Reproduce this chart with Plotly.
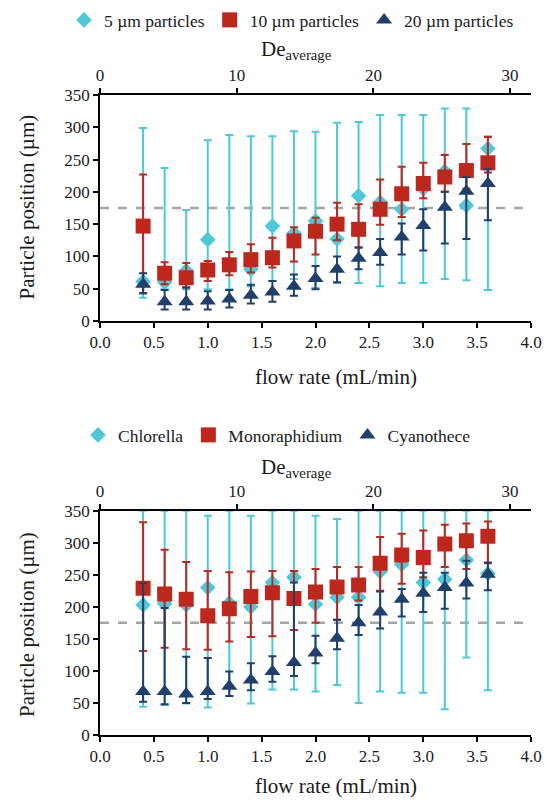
import plotly.graph_objects as go

W, H = 547, 803

flow = [0.4, 0.6, 0.8, 1.0, 1.2, 1.4, 1.6, 1.8, 2.0, 2.2, 2.4, 2.6, 2.8, 3.0, 3.2, 3.4, 3.6]

# ---- top chart: beads ----
p5 = [61, 60, 78, 126, 85, 80, 147, 136, 155, 127, 194, 184, 173, 205, 232, 179, 267]
p5_hi = [299, 237, 172, 280, 288, 286, 286, 294, 293, 307, 308, 319, 319, 319, 329, 329, 286]
p5_lo = [36, 49, 49, 49, 49, 54, 62, 65, 51, 59, 59, 54, 59, 59, 65, 63, 48]

p10 = [147, 74, 67, 79, 87, 95, 98, 124, 139, 150, 142, 173, 197, 213, 223, 233, 245]
p10_hi = [227, 91, 90, 93, 107, 119, 129, 145, 160, 183, 181, 219, 239, 245, 257, 274, 285]
p10_lo = [43, 57, 52, 62, 71, 75, 83, 92, 103, 125, 114, 149, 161, 190, 200, 205, 230]

p20 = [57, 30, 30, 31, 34, 40, 45, 54, 66, 80, 97, 106, 130, 148, 176, 201, 213]
p20_hi = [74, 48, 52, 46, 48, 56, 62, 72, 85, 100, 114, 127, 151, 173, 200, 223, 235]
p20_lo = [43, 18, 18, 18, 21, 27, 30, 39, 49, 60, 80, 87, 103, 109, 120, 127, 156]

# ---- bottom chart: algae ----
chl = [203, 205, 203, 230, 206, 200, 238, 246, 204, 215, 215, 255, 266, 238, 243, 273, 252]
chl_hi = [350, 350, 350, 342, 350, 342, 350, 350, 342, 337, 350, 350, 350, 350, 350, 350, 350]
chl_lo = [44, 47, 49, 43, 61, 49, 71, 71, 68, 78, 50, 68, 66, 66, 40, 121, 70]

mono = [229, 220, 212, 186, 197, 216, 222, 213, 223, 231, 234, 268, 281, 277, 298, 303, 310]
mono_hi = [332, 289, 270, 256, 254, 255, 256, 256, 259, 262, 262, 309, 314, 319, 328, 330, 333]
mono_lo = [131, 136, 134, 133, 146, 153, 154, 164, 175, 180, 210, 225, 236, 246, 262, 259, 268]

cyan_ = [68, 68, 64, 68, 76, 86, 99, 113, 128, 151, 175, 192, 212, 221, 230, 237, 251]
cyan_hi = [237, 198, 122, 120, 99, 112, 123, 238, 155, 180, 203, 224, 228, 253, 253, 272, 269]
cyan_lo = [52, 48, 50, 56, 61, 70, 83, 92, 112, 134, 156, 166, 185, 192, 197, 213, 226]

THRESHOLD = 175
X_TICKS = [0.0, 0.5, 1.0, 1.5, 2.0, 2.5, 3.0, 3.5, 4.0]
Y_TICKS = [0, 50, 100, 150, 200, 250, 300, 350]
DE_TICKS = [0, 10, 20, 30]
DE_MAX = 31.53

C_CYAN = "#4BC9D8"
C_RED = "#BE271B"
C_NAVY = "#213F6C"
FONT = "Liberation Serif, DejaVu Serif, serif"
TXT = "#1a1a1a"

fig = go.Figure()


def add(y, hi, lo, name, color, symbol, size, xa, ya, legend):
    fig.add_trace(go.Scatter(
        x=flow, y=y, mode="markers", name=name,
        xaxis=xa, yaxis=ya, legend=legend,
        marker=dict(symbol=symbol, size=size, color=color, line=dict(width=0)),
        error_y=dict(type="data", symmetric=False,
                     array=[h - v for h, v in zip(hi, y)],
                     arrayminus=[v - l for v, l in zip(y, lo)],
                     color=color, thickness=2, width=4),
        hoverinfo="skip",
    ))


add(p5, p5_hi, p5_lo, "5 \u00b5m particles", C_CYAN, "diamond", 12, "x", "y", "legend")
add(p10, p10_hi, p10_lo, "10 \u00b5m particles", C_RED, "square", 15, "x", "y", "legend")
add(p20, p20_hi, p20_lo, "20 \u00b5m particles", C_NAVY, "triangle-up", 14, "x", "y", "legend")

add(chl, chl_hi, chl_lo, "Chlorella", C_CYAN, "diamond", 12, "x2", "y2", "legend2")
add(mono, mono_hi, mono_lo, "Monoraphidium", C_RED, "square", 15, "x2", "y2", "legend2")
add(cyan_, cyan_hi, cyan_lo, "Cyanothece", C_NAVY, "triangle-up", 14, "x2", "y2", "legend2")

# invisible traces to activate the De axes
fig.add_trace(go.Scatter(x=[None], y=[None], xaxis="x3", yaxis="y", showlegend=False, hoverinfo="skip"))
fig.add_trace(go.Scatter(x=[None], y=[None], xaxis="x4", yaxis="y2", showlegend=False, hoverinfo="skip"))

x0, x1 = 100 / W, 531 / W
top_dom = [1 - 321 / H, 1 - 95 / H]
bot_dom = [1 - 735 / H, 1 - 510.7 / H]

tickfont = dict(family=FONT, size=17, color=TXT)
axis_common = dict(showline=True, linecolor="black", linewidth=1.5, ticks="outside",
                   ticklen=5, tickwidth=1.5, tickcolor="black", showgrid=False,
                   zeroline=False, tickfont=tickfont, automargin=False)

xa = dict(axis_common, range=[0, 4], tickvals=X_TICKS, ticktext=[f"{v:.1f}" for v in X_TICKS],
          domain=[x0, x1])
ya = dict(axis_common, range=[0, 350], tickvals=Y_TICKS)
de = dict(axis_common, range=[0, DE_MAX], tickvals=DE_TICKS, side="top")

legfont = dict(family=FONT, size=17.5, color=TXT)
fig.update_layout(
    width=W, height=H,
    margin=dict(l=0, r=0, t=0, b=0),
    plot_bgcolor="white", paper_bgcolor="white",
    font=dict(family=FONT, color=TXT),
    xaxis=dict(xa, anchor="y"),
    yaxis=dict(ya, domain=top_dom, anchor="x"),
    xaxis2=dict(xa, anchor="y2"),
    yaxis2=dict(ya, domain=bot_dom, anchor="x2"),
    xaxis3=dict(de, overlaying="x", anchor="y", domain=[x0, x1]),
    xaxis4=dict(de, overlaying="x2", anchor="y2", domain=[x0, x1]),
    legend=dict(orientation="h", x=64 / W, xanchor="left", y=1 - 2 / H, yanchor="top",
                font=legfont, itemwidth=30, bgcolor="rgba(0,0,0,0)"),
    legend2=dict(orientation="h", x=78 / W, xanchor="left", y=1 - 417 / H, yanchor="top",
                 font=legfont, itemwidth=30, bgcolor="rgba(0,0,0,0)"),
    showlegend=True,
)

for ref in ["y", "y2"]:
    fig.add_shape(type="line", xref="x domain" if ref == "y" else "x2 domain", yref=ref,
                  x0=0, x1=1, y0=THRESHOLD, y1=THRESHOLD,
                  line=dict(color="#A6A6A6", width=2.5, dash="dash"), layer="below")

ann_font = dict(family=FONT, size=21, color=TXT)
for yc, xt, det in [(207.5, 377, 50), (625, 786, 468)]:
    fig.add_annotation(text="Particle position (\u00b5m)", textangle=-90, x=27 / W, y=1 - yc / H,
                       xref="paper", yref="paper", showarrow=False, font=ann_font,
                       xanchor="center", yanchor="middle")
    fig.add_annotation(text="flow rate (mL/min)", x=336 / W, y=1 - xt / H,
                       xref="paper", yref="paper", showarrow=False, font=ann_font,
                       xanchor="center", yanchor="middle")
    fig.add_annotation(text="De<sub>average</sub>", x=296 / W, y=1 - det / H,
                       xref="paper", yref="paper", showarrow=False, font=ann_font,
                       xanchor="center", yanchor="middle")

fig.write_html("out.html", config={"displayModeBar": False},
               post_script="document.body.style.margin='0';document.body.style.overflow='hidden';")
